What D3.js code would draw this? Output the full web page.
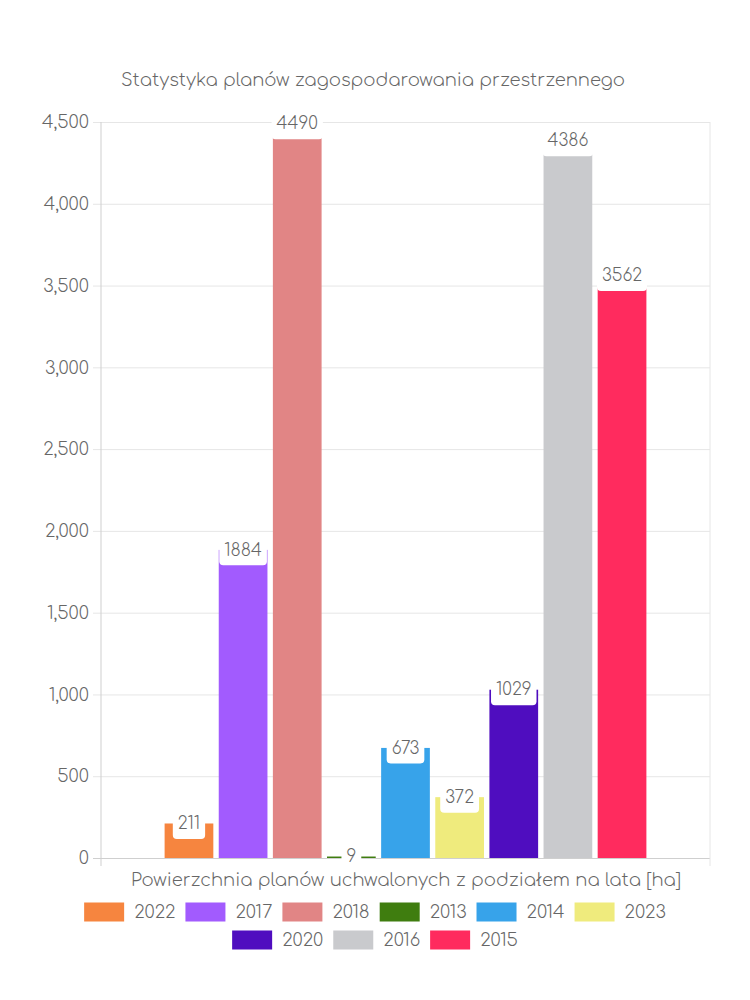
<!DOCTYPE html>
<html>
<head>
<meta charset="utf-8">
<script src="https://cdn.jsdelivr.net/npm/d3@7"></script>
<style>
    html, body { margin: 0; padding: 0; background: #fff; }
    svg { display: block; font-family: Comfortaa, Lato, "Open Sans", sans-serif; font-weight: 300; }
</style>
</head>
<body>
<div id="chart"></div>
<script>
// Data
const title = 'Statystyka planów zagospodarowania przestrzennego'
const xLabel = 'Powierzchnia planów uchwalonych z podziałem na lata [ha]'
const years = ['2022', '2017', '2018', '2013', '2014', '2023', '2020', '2016', '2015']
const areas = [211, 1884, 4490, 9, 673, 372, 1029, 4386, 3562]
const yearColors = ['#f6853f', '#a25bfe', '#e18585', '#3f7d0f', '#37a3ea', '#efeb7d', '#4f0dbf', '#c9cacd', '#ff2b5e']
const yTicks = [0, 500, 1000, 1500, 2000, 2500, 3000, 3500, 4000, 4500]

// Presentation
const width = 750
const height = 1000
const margin = { top: 122, right: 40, bottom: 142, left: 101 }
const chartWidth = width - margin.left - margin.right
const chartHeight = height - margin.top - margin.bottom
const textColor = '#666'
const legendPerRow = 6

const svg = d3.select('#chart').append('svg')
    .attr('width', width)
    .attr('height', height)

// Scales
const y = d3.scaleLinear()
    .domain([0, d3.max(yTicks)])
    .range([chartHeight, 0])
const x = d3.scaleBand()
    .domain(years)
    .range([chartWidth * 0.1, chartWidth * 0.9])
    .paddingInner(0.1)
    .paddingOuter(0.05)

const g = svg.append('g')
    .attr('transform', `translate(${margin.left}, ${margin.top})`)

// Grid
g.append('g')
    .call(d3.axisLeft(y).tickValues(yTicks).tickSize(-chartWidth).tickFormat(''))
    .call(s => s.select('.domain').remove())
    .selectAll('line')
    .attr('stroke', d => d === 0 ? '#cfcfcf' : '#e6e6e6')
    .attr('x1', -8)

// Vertical borders (category grid)
g.selectAll('line.vgrid')
    .data([0, chartWidth])
    .enter()
    .append('line')
    .attr('class', 'vgrid')
    .attr('x1', d => d).attr('x2', d => d)
    .attr('y1', 0).attr('y2', chartHeight + 8)
    .attr('stroke', (d, i) => i === 0 ? '#cfcfcf' : '#e6e6e6')

// Y axis labels
g.append('g')
    .call(d3.axisLeft(y).tickValues(yTicks).tickSize(8).tickPadding(4).tickFormat(d3.format(',')))
    .attr('font-family', null)
    .attr('font-size', null)
    .call(s => s.select('.domain').remove())
    .call(s => s.selectAll('line').remove())
    .selectAll('text')
    .attr('fill', textColor)
    .style('font-size', '18px')

// Bars
g.selectAll('rect.bar')
    .data(years)
    .enter()
    .append('rect')
    .attr('class', 'bar')
    .attr('x', d => x(d))
    .attr('width', x.bandwidth())
    .attr('y', (d, i) => y(areas[i]))
    .attr('height', (d, i) => chartHeight - y(areas[i]))
    .attr('fill', (d, i) => yearColors[i])

// Value labels
const labels = g.selectAll('g.label')
    .data(years)
    .enter()
    .append('g')
    .attr('class', 'label')
    .attr('transform', (d, i) => `translate(${x(d) + x.bandwidth() / 2}, ${y(areas[i])})`)

labels.append('rect')
    .attr('fill', '#fff')
    .attr('rx', 4)
labels.append('text')
    .attr('text-anchor', 'middle')
    .attr('dy', '0.34em')
    .attr('fill', textColor)
    .style('font-size', '17px')
    .text((d, i) => areas[i])
labels.each(function() {
    const label = d3.select(this)
    const tw = label.select('text').node().getComputedTextLength()
    label.select('rect')
        .attr('x', -tw / 2 - 5)
        .attr('y', -15.5)
        .attr('width', tw + 10)
        .attr('height', 31)
})

// Title and axis label
svg.append('text')
    .attr('x', 373)
    .attr('y', 80)
    .attr('dy', '0.35em')
    .attr('text-anchor', 'middle')
    .attr('fill', textColor)
    .attr('textLength', 504)
    .attr('lengthAdjust', 'spacing')
    .style('font-size', '18px')
    .text(title)

svg.append('text')
    .attr('x', 406)
    .attr('y', 880)
    .attr('dy', '0.35em')
    .attr('text-anchor', 'middle')
    .attr('fill', textColor)
    .attr('textLength', 550)
    .attr('lengthAdjust', 'spacing')
    .style('font-size', '18px')
    .text(xLabel)

// Legend
const legend = svg.append('g')
const items = legend.selectAll('g.item')
    .data(years)
    .enter()
    .append('g')
    .attr('class', 'item')
items.append('rect')
    .attr('width', 40)
    .attr('height', 19)
    .attr('y', -9.5)
    .attr('fill', (d, i) => yearColors[i])
items.append('text')
    .attr('x', 50)
    .attr('dy', '0.36em')
    .attr('fill', textColor)
    .style('font-size', '18px')
    .text(d => d)

const rows = d3.range(Math.ceil(years.length / legendPerRow))
    .map(r => items.nodes().slice(r * legendPerRow, (r + 1) * legendPerRow))
rows.forEach((row, r) => {
    const widths = row.map(n => 50 + d3.select(n).select('text').node().getComputedTextLength())
    const total = d3.sum(widths) + 10 * (row.length - 1)
    let cx = width / 2 - total / 2
    row.forEach((n, k) => {
        d3.select(n).attr('transform', `translate(${cx}, ${912 + r * 28})`)
        cx += widths[k] + 10
    })
})
</script>
</body>
</html>
